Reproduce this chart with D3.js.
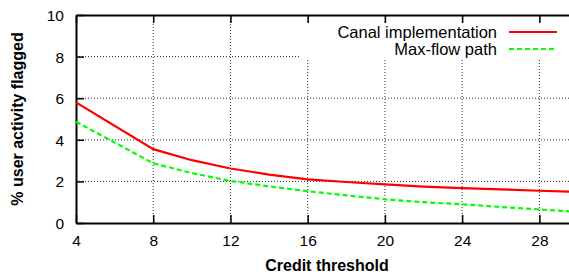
<!DOCTYPE html>
<html><head><meta charset="utf-8">
<script src="https://cdn.jsdelivr.net/npm/d3@7/dist/d3.min.js"></script>
<style>html,body{margin:0;padding:0;background:#fff;overflow:hidden}</style>
</head><body>
<svg id="c" width="569" height="274"></svg>
<script>
const thresholds = [4, 8, 10, 12, 14, 16, 18, 20, 22, 24, 26, 28, 30];
const canal =      [5.8, 3.55, 3.02, 2.62, 2.33, 2.1, 1.97, 1.86, 1.75, 1.68, 1.62, 1.55, 1.5];
const maxflow =    [4.87, 2.87, 2.4, 2.02, 1.76, 1.53, 1.33, 1.14, 1.0, 0.9, 0.77, 0.65, 0.53];
const xTicks = [4, 8, 12, 16, 20, 24, 28];
const yTicks = [0, 2, 4, 6, 8, 10];
const seriesNames = ["Canal implementation", "Max-flow path"];
const xTitle = "Credit threshold";
const yTitle = "% user activity flagged";

const svg = d3.select("#c");
const L = 76, R = 578, T = 15, B = 223;
const x = d3.scaleLinear().domain([4, 30]).range([L, R]);
const y = d3.scaleLinear().domain([0, 10]).range([B, T]);
const font = "'Liberation Sans', Arial, Helvetica, sans-serif";

// grid
const g = svg.append("g");
g.selectAll(".gx").data(xTicks.filter(d => d > 4)).enter().append("line")
  .attr("x1", d => x(d)).attr("x2", d => x(d)).attr("y1", T).attr("y2", B)
  .attr("stroke", "#333").attr("stroke-width", 1).attr("stroke-dasharray", "1,2");
g.selectAll(".gy").data(yTicks.filter(d => d > 0 && d < 10)).enter().append("line")
  .attr("x1", L).attr("x2", R).attr("y1", d => y(d)).attr("y2", d => y(d))
  .attr("stroke", "#333").attr("stroke-width", 1).attr("stroke-dasharray", "1,2");

// opaque key background
svg.append("rect").attr("x", 300).attr("y", 23).attr("width", 280).attr("height", 35).attr("fill", "#fff");

// axes
const xAxis = d3.axisBottom(x).tickValues(xTicks).tickSizeInner(-8).tickSizeOuter(0).tickPadding(12);
const yAxis = d3.axisLeft(y).tickValues(yTicks).tickSizeInner(-8).tickSizeOuter(0).tickPadding(12);
const xTop = d3.axisTop(x).tickValues(xTicks).tickSizeInner(-8).tickSizeOuter(0).tickFormat("");

const gx = svg.append("g").attr("transform", `translate(0,${B})`).call(xAxis);
const gy = svg.append("g").attr("transform", `translate(${L},0)`).call(yAxis);
const gt = svg.append("g").attr("transform", `translate(0,${T})`).call(xTop);
[gx, gy, gt].forEach(a => {
  a.select(".domain").attr("stroke", "#000").attr("stroke-width", 2);
  a.selectAll(".tick line").attr("stroke", "#000").attr("stroke-width", 1.5);
  a.selectAll("text").attr("font-family", font).attr("font-size", 15.5).attr("fill", "#000");
});
gy.selectAll(".tick text").attr("dy", "0.36em");

// lines
const line = d3.line().x((d, i) => x(thresholds[i])).y(d => y(d));
svg.append("path").datum(maxflow).attr("d", line).attr("fill", "none")
  .attr("stroke", "#00ff00").attr("stroke-width", 2.2).attr("stroke-dasharray", "5,3");
svg.append("path").datum(canal).attr("d", line).attr("fill", "none")
  .attr("stroke", "#ff0000").attr("stroke-width", 2.2);

// legend
const leg = [{name: seriesNames[0], color: "#ff0000", dash: null, y: 32},
             {name: seriesNames[1], color: "#00ff00", dash: "5,3", y: 49}];
leg.forEach(d => {
  svg.append("text").attr("x", 497).attr("y", d.y).attr("dy", "0.36em")
    .attr("text-anchor", "end").attr("font-family", font).attr("font-size", 16.5).text(d.name);
  svg.append("line").attr("x1", 509).attr("x2", 557).attr("y1", d.y).attr("y2", d.y)
    .attr("stroke", d.color).attr("stroke-width", 2.2).attr("stroke-dasharray", d.dash);
});

// titles
svg.append("text").attr("x", (L + R) / 2).attr("y", 271).attr("text-anchor", "middle")
  .attr("font-family", font).attr("font-weight", "bold").attr("font-size", 16).text(xTitle);
svg.append("text").attr("transform", `translate(23,${(T + B) / 2}) rotate(-90)`)
  .attr("text-anchor", "middle").attr("font-family", font).attr("font-weight", "bold")
  .attr("font-size", 16).text(yTitle);
</script>
</body></html>
